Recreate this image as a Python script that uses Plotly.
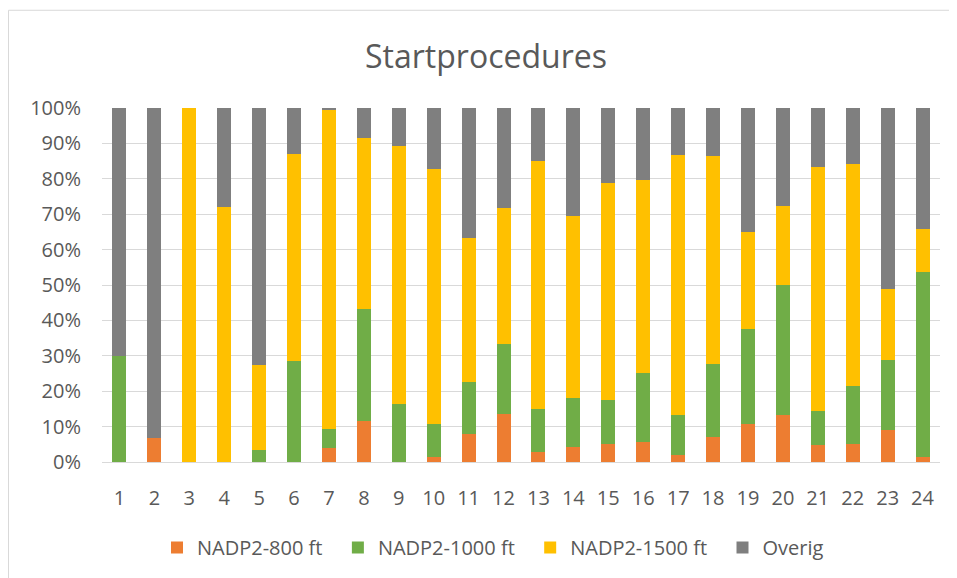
import plotly.graph_objects as go

categories = [str(i) for i in range(1, 25)]
nadp800 = [0, 6.8, 0, 0, 0, 0, 3.9, 11.6, 0, 1.4, 8.0, 13.7, 2.8, 4.2, 5.1, 5.7,
           2.1, 7.2, 10.7, 13.2, 4.8, 5.1, 8.9, 1.4]
nadp1000 = [30.0, 0, 0, 0, 3.4, 28.6, 5.5, 31.7, 16.3, 9.2, 14.6, 19.7, 12.2, 13.9, 12.3, 19.5,
            11.2, 20.5, 26.8, 36.8, 9.7, 16.4, 19.9, 52.4]
nadp1500 = [0, 0, 100, 71.9, 24.0, 58.4, 90.1, 48.3, 72.9, 72.2, 40.8, 38.4, 70.1, 51.3, 61.3, 54.4,
            73.4, 58.7, 27.4, 22.2, 68.9, 62.7, 20.1, 12.1]
overig = [round(100 - a - b - c, 1) for a, b, c in zip(nadp800, nadp1000, nadp1500)]

series_names = ["NADP2-800 ft", "NADP2-1000 ft", "NADP2-1500 ft", "Overig"]
series_colors = ["#ED7D31", "#70AD47", "#FFC000", "#7F7F7F"]
y_ticks = list(range(0, 101, 10))
y_ticktext = [f"{v}%" for v in y_ticks]

fig = go.Figure()
for name, vals, col in zip(series_names, [nadp800, nadp1000, nadp1500, overig], series_colors):
    fig.add_trace(go.Bar(x=categories, y=vals, name=name + "\u00a0\u00a0",
                         hovertemplate=name + ": %{y}%<extra></extra>",
                         marker=dict(color=col, line=dict(width=0))))

font_family = "'Open Sans', Lato, sans-serif"
W, H = 949, 570
L, T, PW, PH = 94, 100, 838, 355
fig.update_layout(
    barmode="stack",
    bargap=0.6,
    width=W, height=H,
    margin=dict(l=L, r=W - L - PW, t=T, b=H - T - PH),
    paper_bgcolor="white", plot_bgcolor="white",
    title=dict(text="Startprocedures", x=(478 - L) / PW, xref="paper",
               xanchor="center", y=1 - 49 / H, yanchor="middle",
               font=dict(family=font_family, size=32, color="#595959")),
    font=dict(family=font_family, color="#595959", size=20),
    xaxis=dict(type="category", showgrid=False, showline=True, linecolor="#D9D9D9",
               ticks="", ticklabelstandoff=18, tickfont=dict(size=20, color="#595959")),
    yaxis=dict(range=[0, 100], tickmode="array", tickvals=y_ticks, ticktext=y_ticktext,
               showgrid=True, gridcolor="#D9D9D9", gridwidth=1, zeroline=False,
               showline=False, ticklabelstandoff=20,
               tickfont=dict(size=20, color="#595959")),
    legend=dict(orientation="h", x=(490 - L) / PW, xref="paper", xanchor="center",
                y=(T + PH - 539.5) / PH, yanchor="middle",
                font=dict(size=20, color="#595959"), traceorder="normal",
                itemwidth=30),
    showlegend=True,
    shapes=[
        dict(type="line", xref="paper", yref="paper",
             x0=(0.5 - L) / PW, x1=(0.5 - L) / PW, y0=-1, y1=(T + PH - 2) / PH,
             line=dict(color="#D9D9D9", width=1)),
        dict(type="line", xref="paper", yref="paper",
             x0=(0.5 - L) / PW, x1=2, y0=(T + PH - 2) / PH, y1=(T + PH - 2) / PH,
             line=dict(color="#D9D9D9", width=1)),
    ],
)

fig.write_html("out.html")
